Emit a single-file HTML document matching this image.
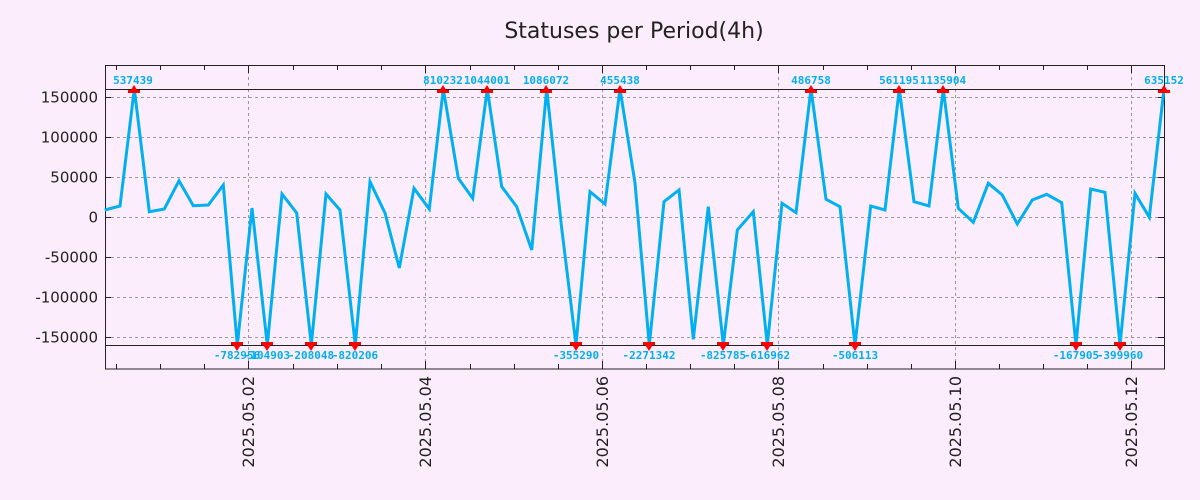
<!DOCTYPE html>
<html><head><meta charset="utf-8"><style>
html,body{margin:0;padding:0;background:#fcedfc;}
svg{display:block;}
.yl{font:15px "DejaVu Sans",sans-serif;fill:#222;text-anchor:end;}
.xl{font:16px "DejaVu Sans",sans-serif;fill:#222;text-anchor:end;}
.pl{font:bold 11px "DejaVu Sans Mono","Liberation Mono",monospace;fill:#00b0f0;text-anchor:middle;}
</style></head><body>
<svg width="1200" height="500" xmlns="http://www.w3.org/2000/svg">
<rect width="1200" height="500" fill="#fcedfc"/>
<text x="634" y="38" font-family="DejaVu Sans, sans-serif" font-size="22" fill="#222" text-anchor="middle">Statuses per Period(4h)</text>
<g stroke="#999" stroke-dasharray="3,3" stroke-width="1">
<line x1="105" x2="1164" y1="97.5" y2="97.5"/><line x1="105" x2="1164" y1="137.5" y2="137.5"/>
<line x1="105" x2="1164" y1="177.5" y2="177.5"/><line x1="105" x2="1164" y1="217.5" y2="217.5"/>
<line x1="105" x2="1164" y1="257.5" y2="257.5"/><line x1="105" x2="1164" y1="297.5" y2="297.5"/>
<line x1="105" x2="1164" y1="337.5" y2="337.5"/>
<line x1="248.5" x2="248.5" y1="65" y2="369"/><line x1="425.5" x2="425.5" y1="65" y2="369"/>
<line x1="602.5" x2="602.5" y1="65" y2="369"/><line x1="778.5" x2="778.5" y1="65" y2="369"/>
<line x1="955.5" x2="955.5" y1="65" y2="369"/><line x1="1131.5" x2="1131.5" y1="65" y2="369"/>
</g>
<g stroke="#222" stroke-width="1">
<line x1="105" x2="1164" y1="89.5" y2="89.5"/><line x1="105" x2="1164" y1="345.5" y2="345.5"/>
<rect x="105.5" y="65.5" width="1059" height="303.5" fill="none"/>
<path d="M105 97.5h6M105 137.5h6M105 177.5h6M105 217.5h6M105 257.5h6M105 297.5h6M105 337.5h6M1164 97.5h-6M1164 137.5h-6M1164 177.5h-6M1164 217.5h-6M1164 257.5h-6M1164 297.5h-6M1164 337.5h-6"/>
<path d="M116.5 369v-5M160.5 369v-5M204.5 369v-5M248.5 369v-8M293.5 369v-5M337.5 369v-5M381.5 369v-5M425.5 369v-8M470.5 369v-5M514.5 369v-5M558.5 369v-5M602.5 369v-8M646.5 369v-5M690.5 369v-5M734.5 369v-5M778.5 369v-8M823.5 369v-5M867.5 369v-5M911.5 369v-5M955.5 369v-8M999.5 369v-5M1043.5 369v-5M1087.5 369v-5M1131.5 369v-8M116.5 65v5M160.5 65v5M204.5 65v5M248.5 65v8M293.5 65v5M337.5 65v5M381.5 65v5M425.5 65v8M470.5 65v5M514.5 65v5M558.5 65v5M602.5 65v8M646.5 65v5M690.5 65v5M734.5 65v5M778.5 65v8M823.5 65v5M867.5 65v5M911.5 65v5M955.5 65v8M999.5 65v5M1043.5 65v5M1087.5 65v5M1131.5 65v8"/>
</g>
<g class="yl">
<text x="98" y="102.5">150000</text><text x="98" y="142.5">100000</text><text x="98" y="182.5">50000</text>
<text x="98" y="222.5">0</text><text x="98" y="262.5">-50000</text><text x="98" y="302.5">-100000</text><text x="98" y="342.5">-150000</text>
</g>
<g class="xl">
<text transform="translate(254,376) rotate(-90)">2025.05.02</text>
<text transform="translate(431,376) rotate(-90)">2025.05.04</text>
<text transform="translate(608,376) rotate(-90)">2025.05.06</text>
<text transform="translate(784,376) rotate(-90)">2025.05.08</text>
<text transform="translate(961,376) rotate(-90)">2025.05.10</text>
<text transform="translate(1137,376) rotate(-90)">2025.05.12</text>
</g>
<polyline fill="none" stroke="#00b0f0" stroke-width="3" stroke-linejoin="miter" points="
104.7,210 120,206 134.3,89 149.3,211.7 164.3,209 179,180.7 193.3,205.7 208.3,205 223.3,185 237.3,345 252,208 267.3,345 282,194 296.7,213 311.3,345 326,194 340,210 355.3,345 370,181.7 385,213 399.3,268 414,188.3 429.3,209 443.3,89 458.3,178.3 472.7,198.3 487.3,89 501.7,186.7 516.7,206.7 531.7,250 546.7,89 561.3,225 576,345 590,191.7 605,204 620,89 635,183 649.3,345 664,201.7 679,190 693.3,339.3 708.3,206.7 723.3,345 737.3,230 753.3,211.7 767.3,345 782,203.3 796,212.7 811,89 826,199.3 840,206.7 855,345 870.7,206 885,210 899.3,89 914,201.7 929,206 943.3,89 958.3,208.3 973.3,222.3 988.3,183.3 1002.3,195 1017.3,224 1032.3,200 1046.7,194.3 1061.7,202.7 1076,345 1090.7,189 1105,192.3 1120,345 1135,193.3 1149.3,217.3 1164,89"/>
<g fill="#f00">
<path d="M129 93l5-8 5 8z"/><rect x="128" y="90" width="12" height="3"/>
<path d="M438 93l5-8 5 8z"/><rect x="437" y="90" width="12" height="3"/>
<path d="M482 93l5-8 5 8z"/><rect x="481" y="90" width="12" height="3"/>
<path d="M541 93l5-8 5 8z"/><rect x="540" y="90" width="12" height="3"/>
<path d="M615 93l5-8 5 8z"/><rect x="614" y="90" width="12" height="3"/>
<path d="M806 93l5-8 5 8z"/><rect x="805" y="90" width="12" height="3"/>
<path d="M894 93l5-8 5 8z"/><rect x="893" y="90" width="12" height="3"/>
<path d="M938 93l5-8 5 8z"/><rect x="937" y="90" width="12" height="3"/>
<path d="M1159 93l5-8 5 8z"/><rect x="1158" y="90" width="12" height="3"/>
<path d="M232 343l5 8 5-8z"/><rect x="231" y="342" width="12" height="3"/>
<path d="M262 343l5 8 5-8z"/><rect x="261" y="342" width="12" height="3"/>
<path d="M306 343l5 8 5-8z"/><rect x="305" y="342" width="12" height="3"/>
<path d="M350 343l5 8 5-8z"/><rect x="349" y="342" width="12" height="3"/>
<path d="M571 343l5 8 5-8z"/><rect x="570" y="342" width="12" height="3"/>
<path d="M644 343l5 8 5-8z"/><rect x="643" y="342" width="12" height="3"/>
<path d="M718 343l5 8 5-8z"/><rect x="717" y="342" width="12" height="3"/>
<path d="M762 343l5 8 5-8z"/><rect x="761" y="342" width="12" height="3"/>
<path d="M850 343l5 8 5-8z"/><rect x="849" y="342" width="12" height="3"/>
<path d="M1071 343l5 8 5-8z"/><rect x="1070" y="342" width="12" height="3"/>
<path d="M1115 343l5 8 5-8z"/><rect x="1114" y="342" width="12" height="3"/>
</g>
<g class="pl">
<text x="133" y="84">537439</text><text x="443" y="84">810232</text><text x="487" y="84">1044001</text><text x="546" y="84">1086072</text><text x="620" y="84">455438</text><text x="811" y="84">486758</text><text x="899" y="84">561195</text><text x="943" y="84">1135904</text><text x="1164" y="84">635152</text>
<text x="237" y="359">-782956</text><text x="267" y="359">-104903</text><text x="311" y="359">-208048</text><text x="355" y="359">-820206</text><text x="576" y="359">-355290</text><text x="649" y="359">-2271342</text><text x="723" y="359">-825785</text><text x="767" y="359">-616962</text><text x="855" y="359">-506113</text><text x="1076" y="359">-167905</text><text x="1120" y="359">-399960</text>
</g>
</svg>
</body></html>
